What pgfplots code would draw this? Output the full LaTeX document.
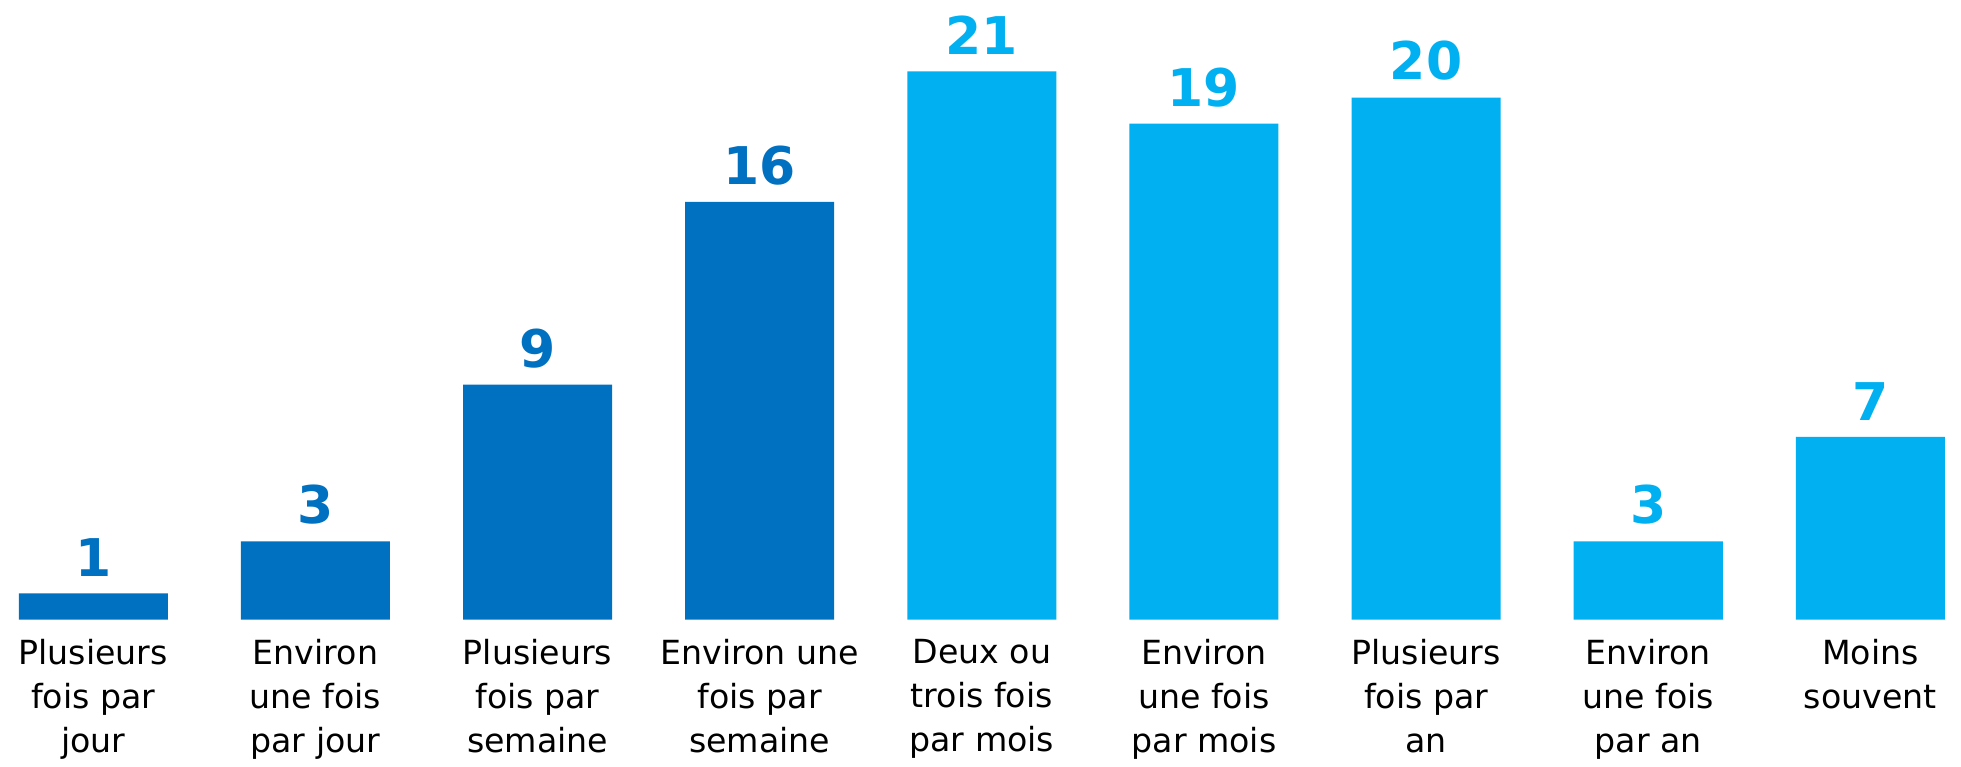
\documentclass[border=0pt]{standalone}
\usepackage{pgfplots}
\pgfplotsset{compat=1.18}
\usepackage{fontspec}
\setmainfont{DejaVu Sans}
\definecolor{dblue}{HTML}{0070C0}
\definecolor{lblue}{HTML}{00B0F0}
\begin{document}
\begin{tikzpicture}
\begin{axis}[
 x=55.525pt, y=6.525pt,
 xmin=-0.42, xmax=8.408, ymin=0, ymax=23.67,
 /pgf/number format/assume math mode=true,
 axis line style={draw=none}, ytick=\empty, xtick={0,...,8}, major tick length=0,
 xticklabels={{Plusieurs\\fois par\\jour},{Environ\\une fois\\par jour},{Plusieurs\\fois par\\semaine},{Environ une\\fois par\\semaine},{Deux ou\\trois fois\\par mois},{Environ\\une fois\\par mois},{Plusieurs\\fois par\\an},{Environ\\une fois\\par an},{Moins\\souvent}},
 xticklabel style={font=\fontsize{8.3}{11}\selectfont, align=center, text depth=0pt, yshift=-1.5pt},
 ybar, bar width=37.25pt, bar shift=0pt,
 nodes near coords,
 every node near coord/.append style={font=\fontsize{13}{15}\selectfont\bfseries, inner sep=4pt},
 clip=false,
]
\addplot[fill=dblue, draw=none, every node near coord/.append style={text=dblue}] coordinates {(0,1)(1,3)(2,9)(3,16)};
\addplot[fill=lblue, draw=none, every node near coord/.append style={text=lblue}] coordinates {(4,21)(5,19)(6,20)(7,3)(8,7)};
\end{axis}
\end{tikzpicture}
\end{document}
